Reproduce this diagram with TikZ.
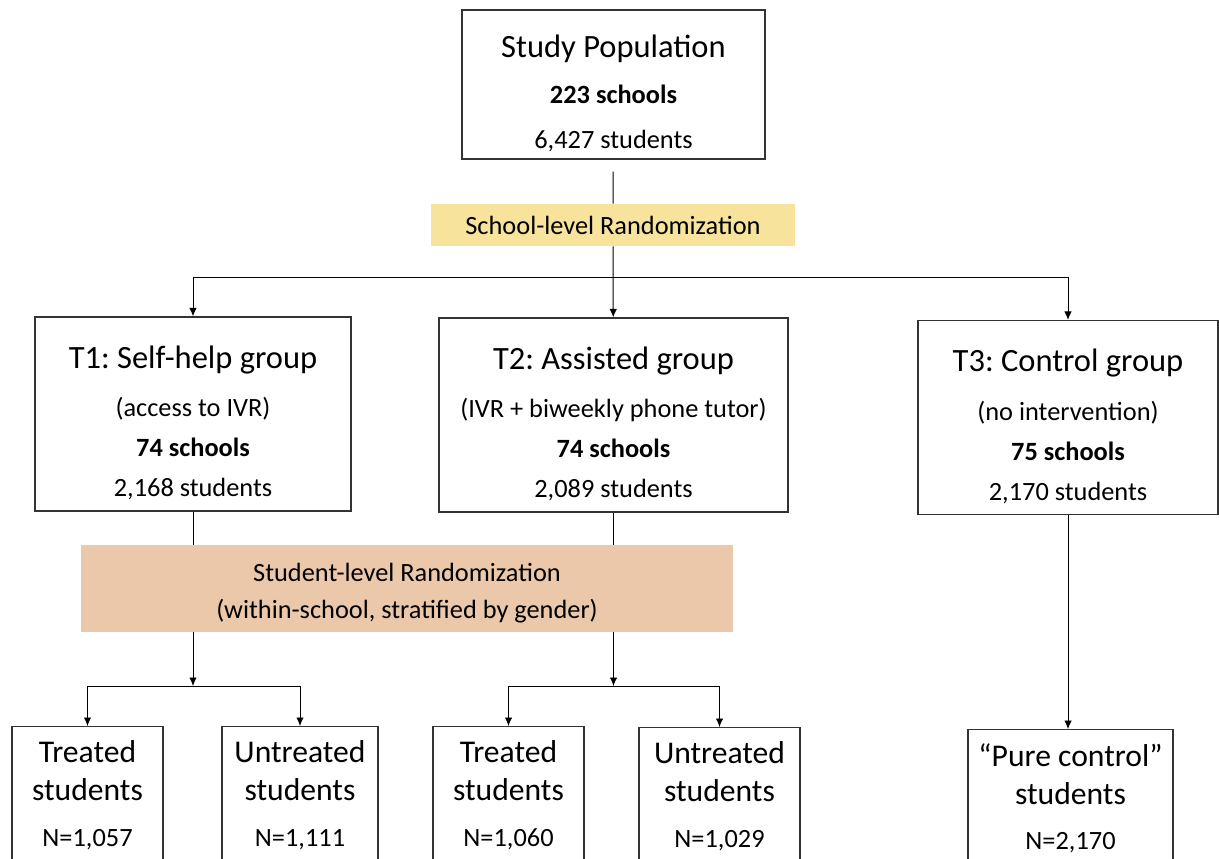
\documentclass[tikz,border=0pt]{standalone}
\usepackage{fontspec}
\setmainfont{Carlito}
\frenchspacing
\usetikzlibrary{arrows.meta,positioning}
\definecolor{schoolband}{HTML}{F7E39B}
\definecolor{studentband}{HTML}{EBC8AA}
\definecolor{boxline}{HTML}{333333}

\tikzset{
  box/.style={draw=boxline, line width=0.75pt, align=center, inner sep=0pt},
  arm/.style={box, minimum height=3.88cm, font=\fontsize{15}{22.7}\selectfont},
  leaf/.style={box, anchor=north, inner ysep=8pt, font=\fontsize{18}{21.5}\selectfont},
  band/.style={align=center, inner sep=0pt, font=\fontsize{15}{21}\selectfont},
  conn/.style={line width=0.55pt},
  arr/.style={conn, -{Latex[length=1.7mm,width=1.5mm]}},
}
\newcommand{\bigline}[1]{{\fontsize{18.5}{22}\selectfont\rule{0pt}{23pt}#1}}
\newcommand{\nline}[1]{{\fontsize{15}{21.5}\selectfont #1\rule[-40pt]{0pt}{0pt}}}

\begin{document}
\begin{tikzpicture}[x=0.02cm, y=-0.02cm]
\useasboundingbox (0,0) rectangle (1219,858);
\clip (0,0) rectangle (1219,858);

% whole sample
\node[box, minimum width=6.06cm, minimum height=2.98cm, font=\fontsize{15}{26}\selectfont] (pop) at (613.5,84.5)
  {\bigline{Study Population}\\ \textbf{223 schools}\\ 6,427 students};
\node[band, fill=schoolband, minimum width=7.28cm, minimum height=0.84cm] (rand1) at (613,225) {School-level Randomization};

% arms
\node[arm, minimum width=6.32cm] (t1) at (193,414)
  {\bigline{T1: Self-help group}\\[5pt] (access to IVR)\\ \textbf{74 schools}\\ 2,168 students};
\node[arm, minimum width=6.98cm] (t2) at (613.5,415)
  {\bigline{T2: Assisted group}\\[5pt] (IVR + biweekly phone tutor)\\ \textbf{74 schools}\\ 2,089 students};
\node[arm, minimum width=6.0cm] (t3) at (1068,417.5)
  {\bigline{T3: Control group}\\[5pt] (no intervention)\\ \textbf{75 schools}\\ 2,170 students};

\node[band, fill=studentband, minimum width=13.04cm, minimum height=1.74cm] (rand2) at (407,588.5)
  {\rule{0pt}{16pt}Student-level Randomization\\ (within-school, stratified by gender)};

% students
\node[leaf, minimum width=3.02cm] (tr1) at (87.5,726) {Treated\\ students\\[4.5pt] \nline{N=1,057}};
\node[leaf, minimum width=3.12cm] (un1) at (300,726) {Untreated\\ students\\[4.5pt] \nline{N=1,111}};
\node[leaf, minimum width=3.02cm] (tr2) at (508.5,726) {Treated\\ students\\[4.5pt] \nline{N=1,060}};
\node[leaf, minimum width=3.22cm] (un2) at (719.5,727) {Untreated\\ students\\[4.5pt] \nline{N=1,029}};
\node[leaf, minimum width=4.1cm] (pure) at (1070.5,729) {“Pure control”\\ students\\[4.5pt] \nline{N=2,170}};

\coordinate (split) at (613,277);
\coordinate (s1) at (193,686);
\coordinate (s2) at (613.5,686);

% connectors
\draw[conn, shorten <=0.24cm] (pop) -- (rand1);
\draw[arr] (rand1) -- (t2);
\draw[arr] (split) -| (t1);
\draw[arr] (split) -| (t3);
\draw[conn] (t1) -- (t1 |- rand2.north);
\draw[conn] (t2) -- (t2 |- rand2.north);
\draw[arr] (t1 |- rand2.south) -- (s1);
\draw[arr] (t2 |- rand2.south) -- (s2);
\draw[arr] (s1) -| (tr1);
\draw[arr] (s1) -| (un1);
\draw[arr] (s2) -| (tr2);
\draw[arr] (s2) -| (un2);
\draw[arr] (t3.south) -- (t3.south |- pure.north);
\end{tikzpicture}
\end{document}
